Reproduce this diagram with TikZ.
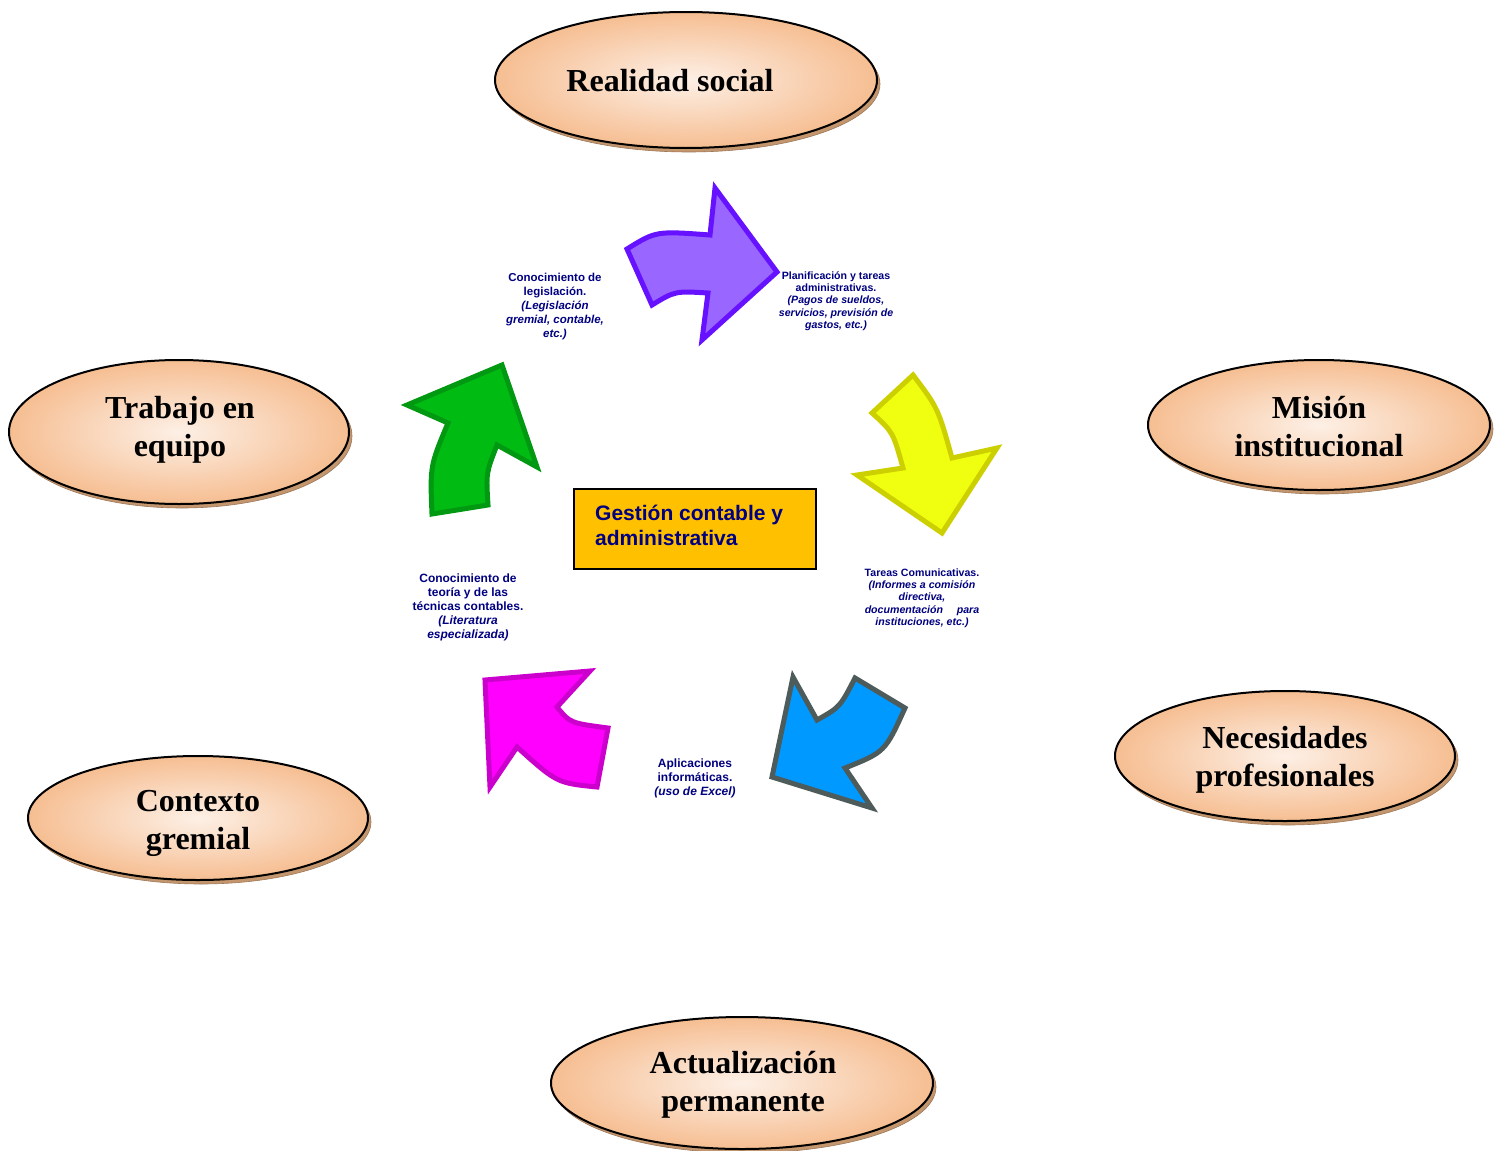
\documentclass[tikz,border=0pt]{standalone}
\usepackage{fontspec}
\setmainfont{Liberation Serif}
\setsansfont{Liberation Sans}
\usetikzlibrary{shapes.geometric}
\definecolor{navytxt}{RGB}{0,0,128}
\definecolor{ellin}{RGB}{253,240,230}
\definecolor{ellout}{RGB}{246,190,146}
\definecolor{ellshadow}{RGB}{196,150,110}
\definecolor{boxfill}{RGB}{255,192,0}
\definecolor{purfill}{RGB}{153,102,255}
\definecolor{purline}{RGB}{102,17,255}
\definecolor{yelfill}{RGB}{240,255,15}
\definecolor{yelline}{RGB}{204,208,0}
\definecolor{blufill}{RGB}{0,153,255}
\definecolor{bluline}{RGB}{77,91,91}
\definecolor{magfill}{RGB}{255,0,255}
\definecolor{magline}{RGB}{204,0,204}
\definecolor{grefill}{RGB}{0,187,17}
\definecolor{greline}{RGB}{0,153,17}
\begin{document}
\begin{tikzpicture}[x=1pt,y=-1pt,
  ellshape/.style={ellipse, draw=black, line width=2pt, inner sep=0pt,
    inner color=ellin, outer color=ellout},
  ellshad/.style={ellipse, fill=ellshadow, draw=ellshadow!80!black, line width=0.6pt, inner sep=0pt},
  elltext/.style={align=center, font=\bfseries\fontsize{32}{38}\selectfont, text=black, inner sep=0pt},
  lbl/.style={align=center, text=navytxt, inner sep=0pt},
  arrowshape/.style={line width=5pt, line join=miter, miter limit=10}
]
\useasboundingbox (0,0) rectangle (1499,1151);

% ---- ellipses (shadow + body) ----
\foreach \nm/\cx/\cy/\w/\h in {rs/686/80/382/136, te/179/432/340/144, mi/1319/425/342/130,
  np/1285/756/340/130, cg/198/818/340/124, ap/742/1083/382/132}{
  \node[ellshad, minimum width=\w pt, minimum height=\h pt] (\nm s) at (\cx+3,\cy+4) {};
  \node[ellshape, minimum width=\w pt, minimum height=\h pt] (\nm) at (\cx,\cy) {};
}
\node[elltext] (rst) at (670,81) {Realidad social};
\node[elltext] (tet) at (180,430) {Trabajo en\\equipo};
\node[elltext] (mit) at (1319,427) {Misión\\institucional};
\node[elltext] (npt) at (1285,760) {Necesidades\\profesionales};
\node[elltext] (cgt) at (198,823) {Contexto\\gremial};
\node[elltext] (apt) at (743,1085) {Actualización\\permanente};

% ---- central box ----
\node[draw=black, line width=2pt, fill=boxfill, minimum width=242pt, minimum height=80pt,
  inner sep=0pt] (center) at (695,529) {};
\node[anchor=west, align=left, text=navytxt, inner sep=0pt,
  font=\sffamily\bfseries\fontsize{21}{25}\selectfont] (centert) at (595,525)
  {Gestión contable y\\administrativa};

% ---- arrows ----
\filldraw[arrowshape, fill=purfill, draw=purline]
  (627,249) .. controls (656,231) .. (710,235) -- (715,188) -- (777,272) -- (702,340)
  -- (708,293) .. controls (675,291) .. (652,305) -- cycle;
\filldraw[arrowshape, fill=yelfill, draw=yelline]
  (913,375) -- (872,413) .. controls (893,432) .. (903,468) -- (857,475) -- (942,533)
  -- (997,448) -- (952,458) .. controls (938,408) .. (913,375) -- cycle;
\filldraw[arrowshape, fill=blufill, draw=bluline]
  (855,678) -- (905,708) .. controls (885,752) .. (845,768) -- (872,808) -- (772,777)
  -- (793,677) -- (817,720) .. controls (840,707) .. (855,678) -- cycle;
\filldraw[arrowshape, fill=magfill, draw=magline]
  (485,680) -- (590,671) -- (557,707) .. controls (570,723) .. (608,728) -- (597,787)
  .. controls (557,783) .. (517,747) -- (490,787) -- cycle;
\filldraw[arrowshape, fill=grefill, draw=greline]
  (432,514) .. controls (430,466) .. (448,423) -- (407,405) -- (502,365) -- (537,467)
  -- (497,445) .. controls (486,473) .. (488,505) -- cycle;

% ---- small labels ----
\node[lbl, font=\sffamily\bfseries\fontsize{11.5}{14}\selectfont] (l1) at (555,307)
  {Conocimiento de\\legislación.\\\textit{(Legislación}\\\textit{gremial, contable,}\\\textit{etc.)}};
\node[lbl, font=\sffamily\bfseries\fontsize{10.6}{12.3}\selectfont] (l2) at (836,301)
  {Planificación y tareas\\administrativas.\\\textit{(Pagos de sueldos,}\\\textit{servicios, previsión de}\\\textit{gastos, etc.)}};
\node[lbl, font=\sffamily\bfseries\fontsize{10.6}{12.3}\selectfont] (l3) at (922,598)
  {Tareas Comunicativas.\\\textit{(Informes a comisión}\\\textit{directiva,}\\\textit{documentación\hspace{1.3em}para}\\\textit{instituciones, etc.)}};
\node[lbl, font=\sffamily\bfseries\fontsize{12}{14}\selectfont] (l4) at (468,607)
  {Conocimiento de\\teoría y de las\\técnicas contables.\\\textit{(Literatura}\\\textit{especializada)}};
\node[lbl, font=\sffamily\bfseries\fontsize{12}{14}\selectfont] (l5) at (695,778)
  {Aplicaciones\\informáticas.\\\textit{(uso de Excel)}};
\end{tikzpicture}
\end{document}
